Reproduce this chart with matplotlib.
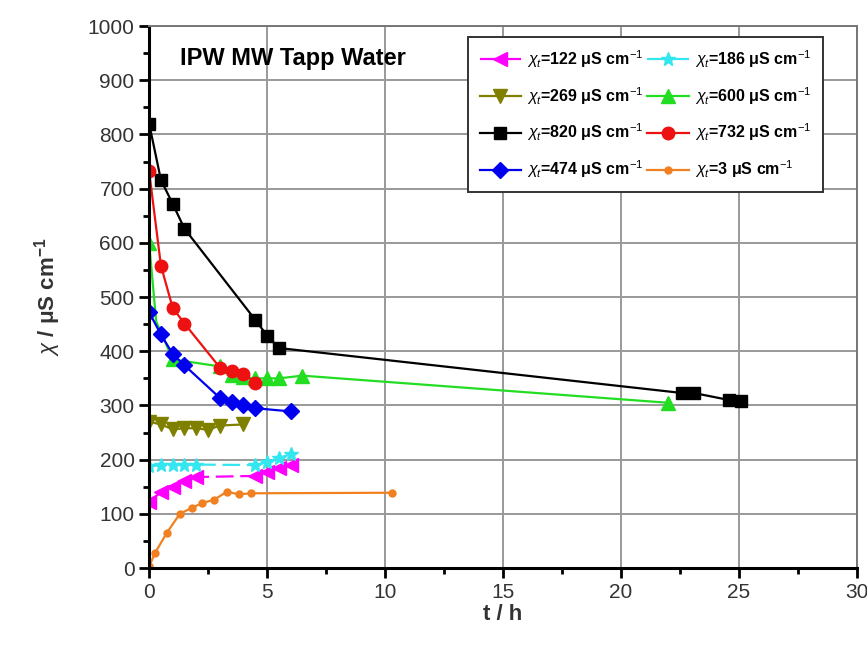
import numpy as np
import matplotlib.pyplot as plt
from matplotlib.ticker import MultipleLocator

plt.rcParams['font.family'] = ['Liberation Sans', 'DejaVu Sans']
plt.rcParams['mathtext.fontset'] = 'custom'
plt.rcParams['mathtext.rm'] = 'Liberation Sans'
plt.rcParams['mathtext.it'] = 'Liberation Sans:italic'
plt.rcParams['mathtext.bf'] = 'Liberation Sans:bold'

# series (t in h, chi in uS/cm)
t_122 = [0, 0.5, 1, 1.5, 2, 4.5, 5, 5.5, 6]
y_122 = [122, 140, 150, 160, 168, 170, 178, 185, 190]

t_186 = [0, 0.5, 1, 1.5, 2, 4.5, 5, 5.5, 6]
y_186 = [188, 190, 190, 190, 191, 190, 196, 203, 210]

t_269 = [0, 0.5, 1, 1.5, 2, 2.5, 3, 4]
y_269 = [270, 265, 256, 258, 258, 255, 263, 265]

t_600 = [0, 0.3, 1, 3, 3.5, 4, 4.5, 5, 5.5, 6.5, 22]
y_600 = [600, 455, 385, 372, 356, 352, 350, 350, 350, 355, 305]

t_820 = [0, 0.5, 1, 1.5, 4.5, 5, 5.5, 22.6, 23.1, 24.6, 25.1]
y_820 = [820, 716, 672, 626, 458, 429, 406, 323, 323, 310, 308]

t_732 = [0, 0.5, 1, 1.5, 3, 3.5, 4, 4.5]
y_732 = [732, 558, 480, 451, 370, 363, 358, 342]

t_474 = [0, 0.5, 1, 1.5, 3, 3.5, 4, 4.5, 6]
y_474 = [472, 431, 395, 374, 314, 307, 301, 295, 289]

t_3 = [0, 0.25, 0.75, 1.3, 1.8, 2.25, 2.75, 3.3, 3.8, 4.3, 10.3]
y_3 = [3, 28, 65, 100, 111, 120, 126, 141, 136, 138, 139]

lab = r'$\chi_t$=%s μS cm$^{-1}$'

fig = plt.figure(figsize=(8.67, 6.5), dpi=100)
ax = fig.add_axes([0.172, 0.126, 0.816, 0.834])

h122, = ax.plot(t_122, y_122, color='#ff00ff', ls=(0, (8, 3)), lw=1.6, marker='<', ms=10, label=lab % '122')
h186, = ax.plot(t_186, y_186, color='#33e6f0', ls=(0, (8, 3)), lw=1.6, marker='*', ms=10, label=lab % '186')
h269, = ax.plot(t_269, y_269, color='#808000', lw=1.6, marker='v', ms=10, label=lab % '269')
h600, = ax.plot(t_600, y_600, color='#22dd22', lw=1.6, marker='^', ms=10,
                markevery=[0, 2, 3, 4, 5, 6, 7, 8, 9, 10], label=lab % '600')
h820, = ax.plot(t_820, y_820, color='black', lw=1.6, marker='s', ms=9, label=lab % '820')
h732, = ax.plot(t_732, y_732, color='#ee1111', lw=1.6, marker='o', ms=9, label=lab % '732')
h474, = ax.plot(t_474, y_474, color='#0000ee', lw=1.6, marker='D', ms=8, label=lab % '474')
h3, = ax.plot(t_3, y_3, color='#f08020', lw=1.6, marker='o', ms=5, label=lab % '3')

ax.set_xlim(0, 30)
ax.set_ylim(0, 1000)
ax.xaxis.set_major_locator(MultipleLocator(5))
ax.xaxis.set_minor_locator(MultipleLocator(2.5))
ax.yaxis.set_major_locator(MultipleLocator(100))
ax.yaxis.set_minor_locator(MultipleLocator(50))
ax.tick_params(which='major', direction='out', length=7, width=2, labelsize=15, labelcolor='#333333')
ax.tick_params(which='minor', direction='out', length=4, width=2)
ax.grid(True, color='#999999', lw=1.4)
ax.set_axisbelow(True)
for s in ['left', 'bottom']:
    ax.spines[s].set_linewidth(2.2)
for s in ['top', 'right']:
    ax.spines[s].set_color('#777777')
    ax.spines[s].set_linewidth(1.4)

ax.set_xlabel('t / h', fontsize=16, fontweight='bold', color='#333333', labelpad=1.5)
ax.set_ylabel(r'$\chi$ / μS cm$^{\mathbf{-1}}$', fontsize=16, fontweight='bold', color='#333333', labelpad=18)

ax.text(1.3, 940, 'IPW MW Tapp Water', fontsize=17, fontweight='bold', va='center')

# column-major order so rows read (122,186), (269,600), (820,732), (474,3)
handles = [h122, h269, h820, h474, h186, h600, h732, h3]
leg = ax.legend(handles=handles, loc='upper right', bbox_to_anchor=(0.952, 0.98), ncol=2,
                borderaxespad=0, fancybox=False, edgecolor='#333333', framealpha=1,
                handlelength=2.6, columnspacing=0.2, handletextpad=0.4, labelspacing=0.95,
                borderpad=0.7, prop={'weight': 'bold', 'size': 11.5})
leg.get_frame().set_linewidth(1.4)

plt.savefig('out.png', dpi=100)
